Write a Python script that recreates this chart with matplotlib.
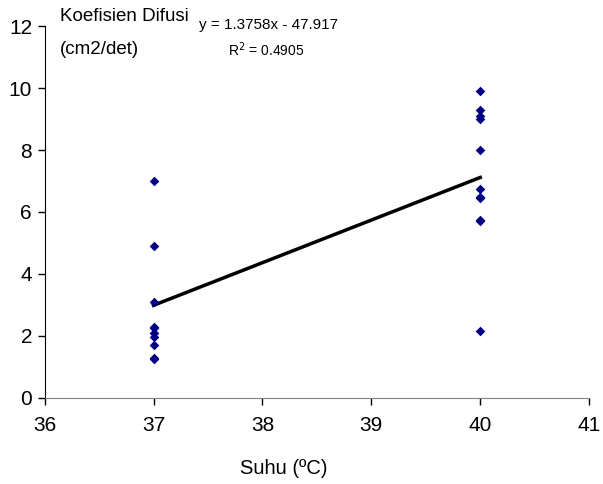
import numpy as np
import matplotlib.pyplot as plt

plt.rcParams['font.family'] = ['Liberation Sans', 'DejaVu Sans']

# diffusion coefficient measurements at two temperatures
suhu_37 = [37] * 10
difusi_37 = [7.0, 4.9, 3.1, 2.3, 2.25, 2.1, 1.95, 1.7, 1.3, 1.25]
suhu_40 = [40] * 11
difusi_40 = [9.9, 9.3, 9.1, 9.0, 8.0, 6.75, 6.5, 6.45, 5.75, 5.7, 2.15]

# linear trend line
slope = 1.3758
intercept = -47.917
r2 = 0.4905
trend_x = [37, 40]

fig = plt.figure(figsize=(6.03, 4.84), dpi=100)
ax = fig.add_axes([0.074, 0.178, 0.903, 0.768])

x_all = suhu_37 + suhu_40
y_all = difusi_37 + difusi_40
ax.scatter(x_all, y_all, marker='D', s=24, color='#000080', zorder=3, linewidths=0)

tx = np.array(trend_x)
ax.plot(tx, slope * tx + intercept, color='black', lw=2.5, zorder=2)

ax.set_xlim(36, 41)
ax.set_ylim(0, 12)
ax.set_xticks(range(36, 42))
ax.set_yticks(range(0, 13, 2))
ax.spines['top'].set_visible(False)
ax.spines['right'].set_visible(False)
ax.spines['left'].set_color('black')
ax.spines['bottom'].set_color('#808080')
ax.tick_params(axis='both', direction='out', length=5, labelsize=15, width=1)
ax.tick_params(axis='x', pad=8, color='black')
ax.tick_params(axis='y', pad=4)

fig.text(0.0995, 0.965, 'Koefisien Difusi', fontsize=13.5, va='center')
fig.text(0.0995, 0.898, '(cm2/det)', fontsize=13.5, va='center')
fig.text(0.33, 0.948, 'y = %.4fx - %.3f' % (slope, -intercept), fontsize=11, va='center')
fig.text(0.378, 0.897, 'R$^2$ = %.4f' % r2, fontsize=10, va='center')

fig.text(0.471, 0.031, 'Suhu (ºC)', fontsize=14.5, ha='center', va='center')

fig.savefig('out.png', dpi=100, facecolor='white')
